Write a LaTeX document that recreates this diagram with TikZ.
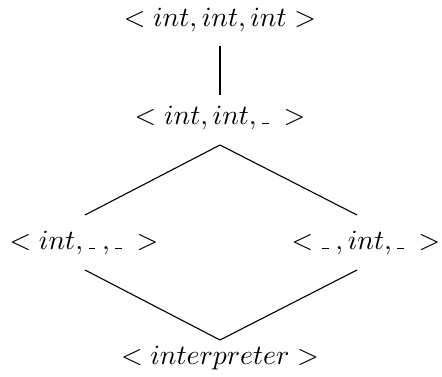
\documentclass[tikz,border=0pt]{standalone}
\usetikzlibrary{calc}

% short low bar for an unused slot
\newcommand{\wild}{\mathord{\kern.3pt\rule{2.4pt}{0.5pt}\kern2.5pt}}

\begin{document}
\begin{tikzpicture}[x=0.01264cm, y=-0.01264cm]

\useasboundingbox (0,0) rectangle (442,377);

% lattice of tuple types
\node (top)   at (220,20)  {$<int,int,int>$};
\node (mid)   at (220,118) {$<int,int,\wild>$};
\node (left)  at (84,243)  {$<int,\wild,\wild>$};
\node (right) at (366,243) {$<\wild,int,\wild>$};
\node (bot)   at (220,358) {$<interpreter>$};

\draw ($ (top) + (0,26) $) -- ($ (mid) + (0,-23) $);

% upper half of the diamond
\draw ($ (mid) + (0,27) $) -- ($ (left) + (1,-28) $);
\draw ($ (mid) + (0,27) $) -- ($ (right) + (-9,-28) $);

% lower half
\draw ($ (left) + (1,27) $) -- ($ (bot) + (0,-18) $);
\draw ($ (right) + (-9,27) $) -- ($ (bot) + (0,-18) $);

\end{tikzpicture}
\end{document}
